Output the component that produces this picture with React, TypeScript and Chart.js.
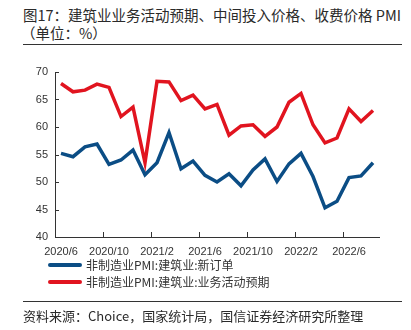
import React, { useEffect, useRef } from "react";
import { Chart, registerables } from "chart.js";

Chart.register(...registerables);

const months = [
  "2020/6", "2020/7", "2020/8", "2020/9", "2020/10", "2020/11", "2020/12",
  "2021/1", "2021/2", "2021/3", "2021/4", "2021/5", "2021/6", "2021/7",
  "2021/8", "2021/9", "2021/10", "2021/11", "2021/12", "2022/1", "2022/2",
  "2022/3", "2022/4", "2022/5", "2022/6", "2022/7", "2022/8",
];

const newOrders = [
  55.2, 54.6, 56.4, 56.9, 53.2, 54.0, 55.8, 51.3, 53.5, 59.0, 52.4, 53.8, 51.2,
  50.0, 51.5, 49.3, 52.2, 54.2, 50.1, 53.3, 55.2, 51.0, 45.3, 46.5, 50.8, 51.1, 53.5,
];

const activityExpect = [
  67.9, 66.4, 66.7, 67.8, 67.2, 61.9, 63.6, 53.5, 68.3, 68.2, 64.8, 65.8, 63.3,
  64.1, 58.5, 60.2, 60.4, 58.3, 60.0, 64.5, 66.1, 60.4, 57.1, 58.0, 63.3, 61.0, 63.0,
];

const seriesNames = ["非制造业PMI:建筑业:新订单", "非制造业PMI:建筑业:业务活动预期"];
const seriesColors = ["#0b4d85", "#e1141f"];
const yTicks = [40, 45, 50, 55, 60, 65, 70];
const labelEvery = 4;

const titleLine1 = "图17：建筑业业务活动预期、中间投入价格、收费价格 PMI";
const titleLine2 = "（单位：%）";
const sourceText = "资料来源：Choice，国家统计局，国信证券经济研究所整理";

const inwardTicks = {
  id: "inwardTicks",
  afterDraw(chart: any) {
    const ctx = chart.ctx;
    const x = chart.scales.x;
    const y = chart.scales.y;
    ctx.save();
    ctx.strokeStyle = "#333";
    ctx.lineWidth = 1;
    ctx.beginPath();
    for (const v of yTicks) {
      const py = Math.round(y.getPixelForValue(v)) + 0.5;
      ctx.moveTo(x.left, py);
      ctx.lineTo(x.left + 4, py);
    }
    const n = months.length;
    for (let i = labelEvery; i < n; i += labelEvery) {
      const px = Math.round((x.getPixelForValue(i - 1) + x.getPixelForValue(i)) / 2) + 0.5;
      ctx.moveTo(px, y.bottom);
      ctx.lineTo(px, y.bottom - 5);
    }
    ctx.stroke();
    ctx.restore();
  },
};

function ChartCanvas() {
  const ref = useRef<HTMLCanvasElement | null>(null);
  useEffect(() => {
    if (!ref.current) return;
    const chart = new Chart(ref.current, {
      type: "line",
      data: {
        labels: months,
        datasets: [
          {
            label: seriesNames[0],
            data: newOrders,
            borderColor: seriesColors[0],
            backgroundColor: seriesColors[0],
            borderWidth: 3.5,
            pointRadius: 0,
            tension: 0,
          },
          {
            label: seriesNames[1],
            data: activityExpect,
            borderColor: seriesColors[1],
            backgroundColor: seriesColors[1],
            borderWidth: 3.5,
            pointRadius: 0,
            tension: 0,
          },
        ],
      },
      options: {
        animation: false,
        responsive: false,
        maintainAspectRatio: false,
        layout: { padding: { top: 17, right: 32, left: 0, bottom: 0 } },
        plugins: {
          legend: { display: false },
          tooltip: { enabled: false },
          title: { display: false },
        },
        scales: {
          x: {
            type: "category",
            offset: true,
            grid: { display: false, drawTicks: false, offset: true },
            border: { display: true, color: "#333", width: 1 },
            ticks: {
              autoSkip: false,
              maxRotation: 0,
              minRotation: 0,
              padding: 8,
              color: "#333",
              font: { family: "'Liberation Sans', Arial, sans-serif", size: 11 },
              callback: (_v: any, i: number) => (i % labelEvery === 0 ? months[i] : ""),
            },
            afterFit: (s: any) => {
              s.height = 25;
            },
          },
          y: {
            min: 40,
            max: 70,
            grid: { display: false, drawTicks: false },
            border: { display: true, color: "#333", width: 1 },
            ticks: {
              stepSize: 5,
              padding: 7,
              color: "#333",
              font: { family: "'Liberation Sans', Arial, sans-serif", size: 11 },
            },
            afterFit: (s: any) => {
              s.width = 55;
            },
          },
        },
      },
      plugins: [inwardTicks],
    });
    return () => chart.destroy();
  }, []);
  return (
    <canvas
      ref={ref}
      width={411}
      height={207}
      style={{ position: "absolute", left: 0, top: 55, width: 411, height: 207 }}
    />
  );
}

const cjk = "'Noto Sans CJK SC', 'Noto Sans', sans-serif";

export default function App() {
  return (
    <div
      style={{
        position: "absolute",
        left: 0,
        top: 0,
        width: 411,
        height: 330,
        background: "#fff",
        overflow: "hidden",
        fontFamily: cjk,
        color: "#2a2a2a",
      }}
    >
      <div style={{ position: "absolute", left: 23, top: 6, fontSize: 14.5, lineHeight: "18px", whiteSpace: "nowrap" }}>
        {titleLine1}
      </div>
      <div style={{ position: "absolute", left: 21, top: 24, fontSize: 14.5, lineHeight: "18px", whiteSpace: "nowrap" }}>
        {titleLine2}
      </div>
      <div style={{ position: "absolute", left: 23, top: 44, width: 379, height: 1, background: "#333" }} />
      <ChartCanvas />
      {seriesNames.map((name, i) => (
        <React.Fragment key={name}>
          <div
            style={{
              position: "absolute",
              left: 48,
              top: 263 + i * 17,
              width: 34,
              height: 4,
              borderRadius: 2,
              background: seriesColors[i],
            }}
          />
          <div
            style={{
              position: "absolute",
              left: 86,
              top: 256 + i * 17,
              fontSize: 12,
              lineHeight: "18px",
              whiteSpace: "nowrap",
              color: "#333",
            }}
          >
            {name}
          </div>
        </React.Fragment>
      ))}
      <div style={{ position: "absolute", left: 23, top: 301, width: 379, height: 1, background: "#333" }} />
      <div style={{ position: "absolute", left: 23, top: 307, fontSize: 13, lineHeight: "18px", whiteSpace: "nowrap" }}>
        {sourceText}
      </div>
    </div>
  );
}
